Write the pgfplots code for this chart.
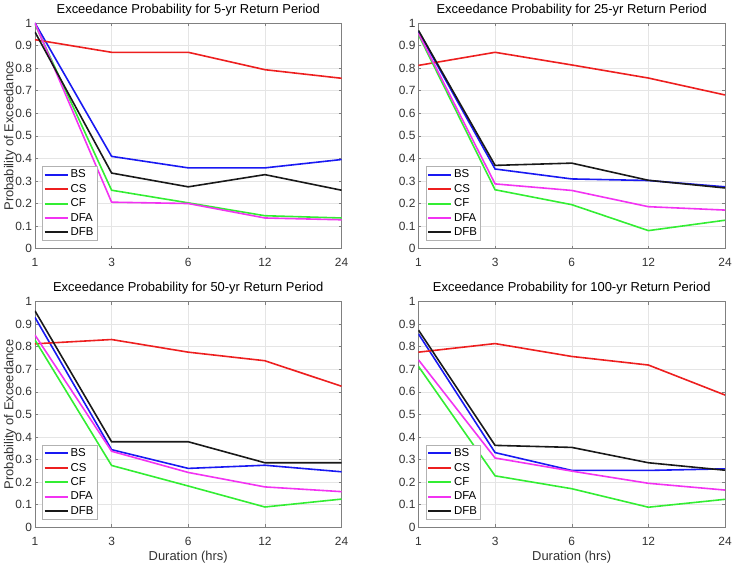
\documentclass[border=0pt]{standalone}
\usepackage{pgfplots}
\pgfplotsset{compat=1.18}
\usepackage{fontspec}
\setmainfont{Liberation Sans}

\definecolor{axgray}{gray}{0.5}
\definecolor{txtgray}{gray}{0.2}
\definecolor{gridgray}{gray}{0.9}
\definecolor{cBS}{rgb}{0.1,0.1,0.95}
\definecolor{cCS}{rgb}{0.93,0.12,0.12}
\definecolor{cCF}{rgb}{0.2,0.93,0.2}
\definecolor{cDFA}{rgb}{0.95,0.2,0.95}
\definecolor{cDFB}{rgb}{0.1,0.1,0.1}

\pgfplotsset{
  % legend sample drawn with its own colour and width
  leg/.style={legend image code/.code={%
      \draw[#1, line width=1.8bp] (0bp,0bp) -- (23bp,0bp);}},
  panel/.style={
    scale only axis,
    width=307bp, height=226bp,
    xmin=0, xmax=4, ymin=0, ymax=1,
    xtick={0,1,2,3,4},
    xticklabels={1,3,6,12,24},
    ytick={0,0.1,...,1},
    yticklabels={0,0.1,0.2,0.3,0.4,0.5,0.6,0.7,0.8,0.9,1},
    /pgf/number format/assume math mode=true,
    tick align=inside,
    major tick length=3bp,
    tick style={axgray, line width=0.5bp},
    axis line style={axgray, line width=0.6bp},
    grid=major,
    grid style={gridgray, line width=0.5bp},
    ticklabel style={font=\fontsize{12}{14}\selectfont, text=txtgray},
    xticklabel style={anchor=base, yshift=-18bp},
    yticklabel style={xshift=0.5bp},
    title style={font=\fontsize{13}{15}\selectfont,
      at={(0.5,1)}, anchor=base, yshift=4bp},
    label style={font=\fontsize{13}{15}\selectfont, text=txtgray},
    xlabel style={at={(0.5,0)}, anchor=base, yshift=-33bp},
    ylabel style={at={(-0.0814,0.5)}, anchor=center},
    every axis plot/.append style={line width=1.6bp, mark=none},
    legend style={at={(0.023,0.035)}, anchor=south west,
      font=\fontsize{11.5}{12.5}\selectfont,
      draw=gray!60, fill=white, line width=0.5bp,
      inner sep=1.5bp, row sep=1bp, cells={anchor=west}},
    legend cell align=left,
  }
}

\begin{document}
\begin{tikzpicture}
\path (0,0) rectangle (735bp,-565bp);

% 5-yr return period
\begin{axis}[panel, at={(35bp,-249bp)}, anchor=south west,
  title={Exceedance Probability for 5-yr Return Period},
  ylabel={Probability of Exceedance}]
\addplot[cBS, leg=cBS]   coordinates {(0,1.0) (1,0.409) (2,0.358) (3,0.358) (4,0.395)};
\addplot[cCS, leg=cCS]   coordinates {(0,0.926) (1,0.870) (2,0.870) (3,0.793) (4,0.755)};
\addplot[cCF, leg=cCF]   coordinates {(0,0.995) (1,0.259) (2,0.203) (3,0.146) (4,0.136)};
\addplot[cDFA, leg=cDFA] coordinates {(0,1.0) (1,0.206) (2,0.200) (3,0.136) (4,0.128)};
\addplot[cDFB, leg=cDFB] coordinates {(0,0.960) (1,0.335) (2,0.274) (3,0.328) (4,0.259)};
\legend{BS,CS,CF,DFA,DFB}
\end{axis}

% 25-yr return period
\begin{axis}[panel, at={(419bp,-249bp)}, anchor=south west,
  title={Exceedance Probability for 25-yr Return Period}]
\addplot[cBS, leg=cBS]   coordinates {(0,0.963) (1,0.353) (2,0.309) (3,0.302) (4,0.274)};
\addplot[cCS, leg=cCS]   coordinates {(0,0.812) (1,0.870) (2,0.814) (3,0.756) (4,0.681)};
\addplot[cCF, leg=cCF]   coordinates {(0,0.948) (1,0.261) (2,0.195) (3,0.080) (4,0.126)};
\addplot[cDFA, leg=cDFA] coordinates {(0,0.955) (1,0.287) (2,0.258) (3,0.186) (4,0.171)};
\addplot[cDFB, leg=cDFB] coordinates {(0,0.967) (1,0.369) (2,0.379) (3,0.303) (4,0.269)};
\legend{BS,CS,CF,DFA,DFB}
\end{axis}

% 50-yr return period
\begin{axis}[panel, at={(35bp,-528bp)}, anchor=south west,
  title={Exceedance Probability for 50-yr Return Period},
  xlabel={Duration (hrs)},
  ylabel={Probability of Exceedance}]
\addplot[cBS, leg=cBS]   coordinates {(0,0.930) (1,0.344) (2,0.261) (3,0.275) (4,0.246)};
\addplot[cCS, leg=cCS]   coordinates {(0,0.813) (1,0.832) (2,0.776) (3,0.738) (4,0.625)};
\addplot[cCF, leg=cCF]   coordinates {(0,0.830) (1,0.274) (2,0.183) (3,0.090) (4,0.125)};
\addplot[cDFA, leg=cDFA] coordinates {(0,0.852) (1,0.337) (2,0.243) (3,0.179) (4,0.158)};
\addplot[cDFB, leg=cDFB] coordinates {(0,0.959) (1,0.379) (2,0.379) (3,0.286) (4,0.286)};
\legend{BS,CS,CF,DFA,DFB}
\end{axis}

% 100-yr return period
\begin{axis}[panel, at={(419bp,-528bp)}, anchor=south west,
  title={Exceedance Probability for 100-yr Return Period},
  xlabel={Duration (hrs)}]
\addplot[cBS, leg=cBS]   coordinates {(0,0.857) (1,0.331) (2,0.252) (3,0.252) (4,0.259)};
\addplot[cCS, leg=cCS]   coordinates {(0,0.776) (1,0.814) (2,0.757) (3,0.719) (4,0.586)};
\addplot[cCF, leg=cCF]   coordinates {(0,0.713) (1,0.228) (2,0.171) (3,0.089) (4,0.124)};
\addplot[cDFA, leg=cDFA] coordinates {(0,0.742) (1,0.307) (2,0.249) (3,0.195) (4,0.165)};
\addplot[cDFB, leg=cDFB] coordinates {(0,0.874) (1,0.363) (2,0.354) (3,0.286) (4,0.253)};
\legend{BS,CS,CF,DFA,DFB}
\end{axis}
\end{tikzpicture}
\end{document}
